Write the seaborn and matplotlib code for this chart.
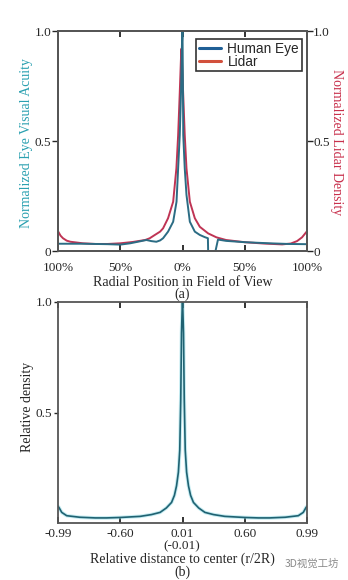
import matplotlib
matplotlib.use("Agg")
import matplotlib.pyplot as plt
from matplotlib.lines import Line2D
import seaborn as sns
import pandas as pd

# ---------------- data ----------------
# (a) radial position in field of view, percent (left half negative)
eye_x = [-100, -80, -60, -50, -42, -35, -29, -25, -21, -18, -15.6, -11.6, -7.5, -4.8,
         -3.5, -2.2, -1.2, -0.4, 0, 0.3, 0.6, 1.8, 3.2, 5.9, 9.9, 13.9, 17.9, 20.4,
         20.6, 26.5, 28.5, 35, 50, 70, 85, 100]
eye_y = [0.033, 0.033, 0.031, 0.029, 0.035, 0.043, 0.050, 0.045, 0.042, 0.048, 0.058,
         0.088, 0.133, 0.224, 0.376, 0.527, 0.72, 0.95, 1.0, 0.80, 0.527, 0.376, 0.255,
         0.133, 0.088, 0.073, 0.063, 0.058, 0.0, 0.0, 0.052, 0.046, 0.040, 0.035,
         0.032, 0.031]

lidar_x = [-100, -98, -96, -93, -90, -80, -70, -60, -50, -40, -30, -26.3, -22.2, -18,
           -15.6, -11.6, -7.5, -4.9, -3.5, -2.2, -1.2, -0.8, 0.3, 1.8, 3.2, 5.9, 9.9,
           13.9, 20.6, 27.3, 35, 50, 65, 80, 87, 92, 96, 100]
lidar_y = [0.090, 0.070, 0.058, 0.047, 0.042, 0.035, 0.032, 0.032, 0.035, 0.041, 0.050,
           0.058, 0.073, 0.088, 0.103, 0.149, 0.224, 0.376, 0.527, 0.72, 0.88, 0.92,
           0.75, 0.527, 0.376, 0.224, 0.149, 0.110, 0.080, 0.062, 0.050, 0.040, 0.034,
           0.030, 0.034, 0.045, 0.062, 0.090]

a_xticks = [-100, -50, 0, 50, 100]
a_xticklabels = ["100%", "50%", "0%", "50%", "100%"]
a_yticks = [0, 0.5, 1.0]
a_yticklabels = ["0", "0.5", "1.0"]

# (b) relative distance to center (display coordinate -1..1)
dens_x = [-1.0, -0.993, -0.97, -0.93, -0.825, -0.7, -0.61, -0.5, -0.34, -0.25, -0.18,
          -0.13, -0.088, -0.065, -0.048, -0.033, -0.022, -0.014, -0.008, -0.003, 0.0,
          0.003, 0.008, 0.014, 0.022, 0.033, 0.048, 0.065, 0.088, 0.13, 0.18, 0.25,
          0.34, 0.5, 0.61, 0.7, 0.825, 0.93, 0.97, 0.993, 1.0]
dens_y = [0.075, 0.071, 0.048, 0.033, 0.026, 0.023, 0.023, 0.025, 0.030, 0.038, 0.048,
          0.068, 0.093, 0.125, 0.168, 0.23, 0.33, 0.56, 0.86, 0.96, 1.0,
          0.96, 0.86, 0.56, 0.33, 0.23, 0.168, 0.125, 0.093, 0.068, 0.048, 0.038,
          0.030, 0.025, 0.023, 0.023, 0.026, 0.033, 0.048, 0.071, 0.075]

b_xticks = [-1.0, -0.5, 0.0, 0.5, 1.0]
b_xticklabels = ["-0.99", "-0.60", "0.01", "0.60", "0.99"]
b_yticks = [0.5, 1.0]
b_yticklabels = ["0.5", "1.0"]

# ---------------- style ----------------
sns.set_style("ticks")
SERIF = ["Liberation Serif", "DejaVu Serif"]
plt.rcParams["font.family"] = SERIF
plt.rcParams["axes.edgecolor"] = "#555555"
plt.rcParams["axes.linewidth"] = 1.3

EYE_C = "#2b6c84"
LIDAR_C = "#bf3454"
B_C = "#1f6272"
FS = 9.5
LFS = 10

fig = plt.figure(figsize=(3.48, 5.8), dpi=100)
ax1 = fig.add_axes([58 / 348, 1 - 251 / 580, 249 / 348, 220 / 580])
ax2 = fig.add_axes([58 / 348, 1 - 523 / 580, 249 / 348, 221 / 580])

df_eye = pd.DataFrame({"x": eye_x, "y": eye_y})
df_lidar = pd.DataFrame({"x": lidar_x, "y": lidar_y})
df_dens = pd.DataFrame({"x": dens_x, "y": dens_y})

sns.lineplot(data=df_lidar, x="x", y="y", ax=ax1, color=LIDAR_C, lw=1.4,
             estimator=None, sort=False)
sns.lineplot(data=df_eye, x="x", y="y", ax=ax1, color=EYE_C, lw=1.4,
             estimator=None, sort=False)

ax1.set_xlim(-100, 100)
ax1.set_ylim(0, 1)
ax1.set_xticks(a_xticks)
ax1.set_xticklabels(a_xticklabels, fontsize=FS)
ax1.set_yticks(a_yticks)
ax1.set_yticklabels(a_yticklabels, fontsize=FS)
ax1.tick_params(axis="x", direction="in", top=True, bottom=True, length=4,
                width=1.3, color="#222222", pad=8)
ax1.tick_params(axis="y", direction="out", length=4, width=1.0, pad=1)
ax1.set_xlabel("Radial Position in Field of View", fontsize=LFS)
ax1.xaxis.set_label_coords(0.5, -0.112)
ax1.set_ylabel("Normalized Eye Visual Acuity", fontsize=LFS, color="#2aa0b0")
ax1.yaxis.set_label_coords(-0.1, 0.49)

ax1r = ax1.twinx()
ax1r.set_ylim(0, 1)
ax1r.set_yticks(a_yticks)
ax1r.set_yticklabels(a_yticklabels, fontsize=FS)
ax1r.tick_params(axis="y", direction="out", length=4, width=1.0, pad=0.5)
ax1r.set_ylabel("Normalized Lidar Density", fontsize=LFS, color="#c8304c",
                rotation=270, va="center")
ax1r.yaxis.set_label_coords(1.118, 0.495)

handles = [Line2D([], [], color="#1f5f96", lw=2.2),
           Line2D([], [], color="#d2503c", lw=2.2)]
leg = ax1.legend(handles, ["Human Eye", "Lidar"], loc="upper right",
                 bbox_to_anchor=(0.99, 0.975), frameon=True, fancybox=False,
                 edgecolor="black", handlelength=1.6, handletextpad=0.5,
                 borderpad=0.2, labelspacing=-0.1, borderaxespad=0.2,
                 prop={"family": ["Liberation Sans", "DejaVu Sans"], "size": 9.8})
leg.get_frame().set_linewidth(1.2)

fig.text(182 / 348, 1 - 294 / 580, "(a)", ha="center", va="center", fontsize=LFS)

# (b)
sns.lineplot(data=df_dens, x="x", y="y", ax=ax2, color="#8fdbe6", lw=2.6,
             estimator=None, sort=False, alpha=0.5)
sns.lineplot(data=df_dens, x="x", y="y", ax=ax2, color=B_C, lw=1.2,
             estimator=None, sort=False)
ax2.set_xlim(-1, 1)
ax2.set_ylim(0, 1)
ax2.set_xticks(b_xticks)
ax2.set_xticklabels(b_xticklabels, fontsize=FS)
ax2.set_yticks(b_yticks)
ax2.set_yticklabels(b_yticklabels, fontsize=FS)
ax2.tick_params(axis="x", direction="in", top=True, bottom=True, length=4,
                width=1.3, color="#222222", pad=3.5)
ax2.tick_params(axis="y", direction="out", length=3, width=1.0, pad=1)
ax2.set_xlabel("")
ax2.set_ylabel("Relative density", fontsize=LFS)
ax2.yaxis.set_label_coords(-0.096, 0.525)

fig.text(182 / 348, 1 - 546 / 580, "(-0.01)", ha="center", va="center", fontsize=FS)
fig.text(182 / 348, 1 - 559 / 580, "Relative distance to center (r/2R)",
         ha="center", va="center", fontsize=LFS)
fig.text(182 / 348, 1 - 572 / 580, "(b)", ha="center", va="center", fontsize=LFS)
fig.text(285 / 348, 1 - 564 / 580, "3D视觉工坊", ha="left", va="center",
         fontsize=7.5, color="#8a8a8a",
         family=["Noto Sans CJK SC", "DejaVu Sans"])

fig.savefig("out.png", dpi=100)
